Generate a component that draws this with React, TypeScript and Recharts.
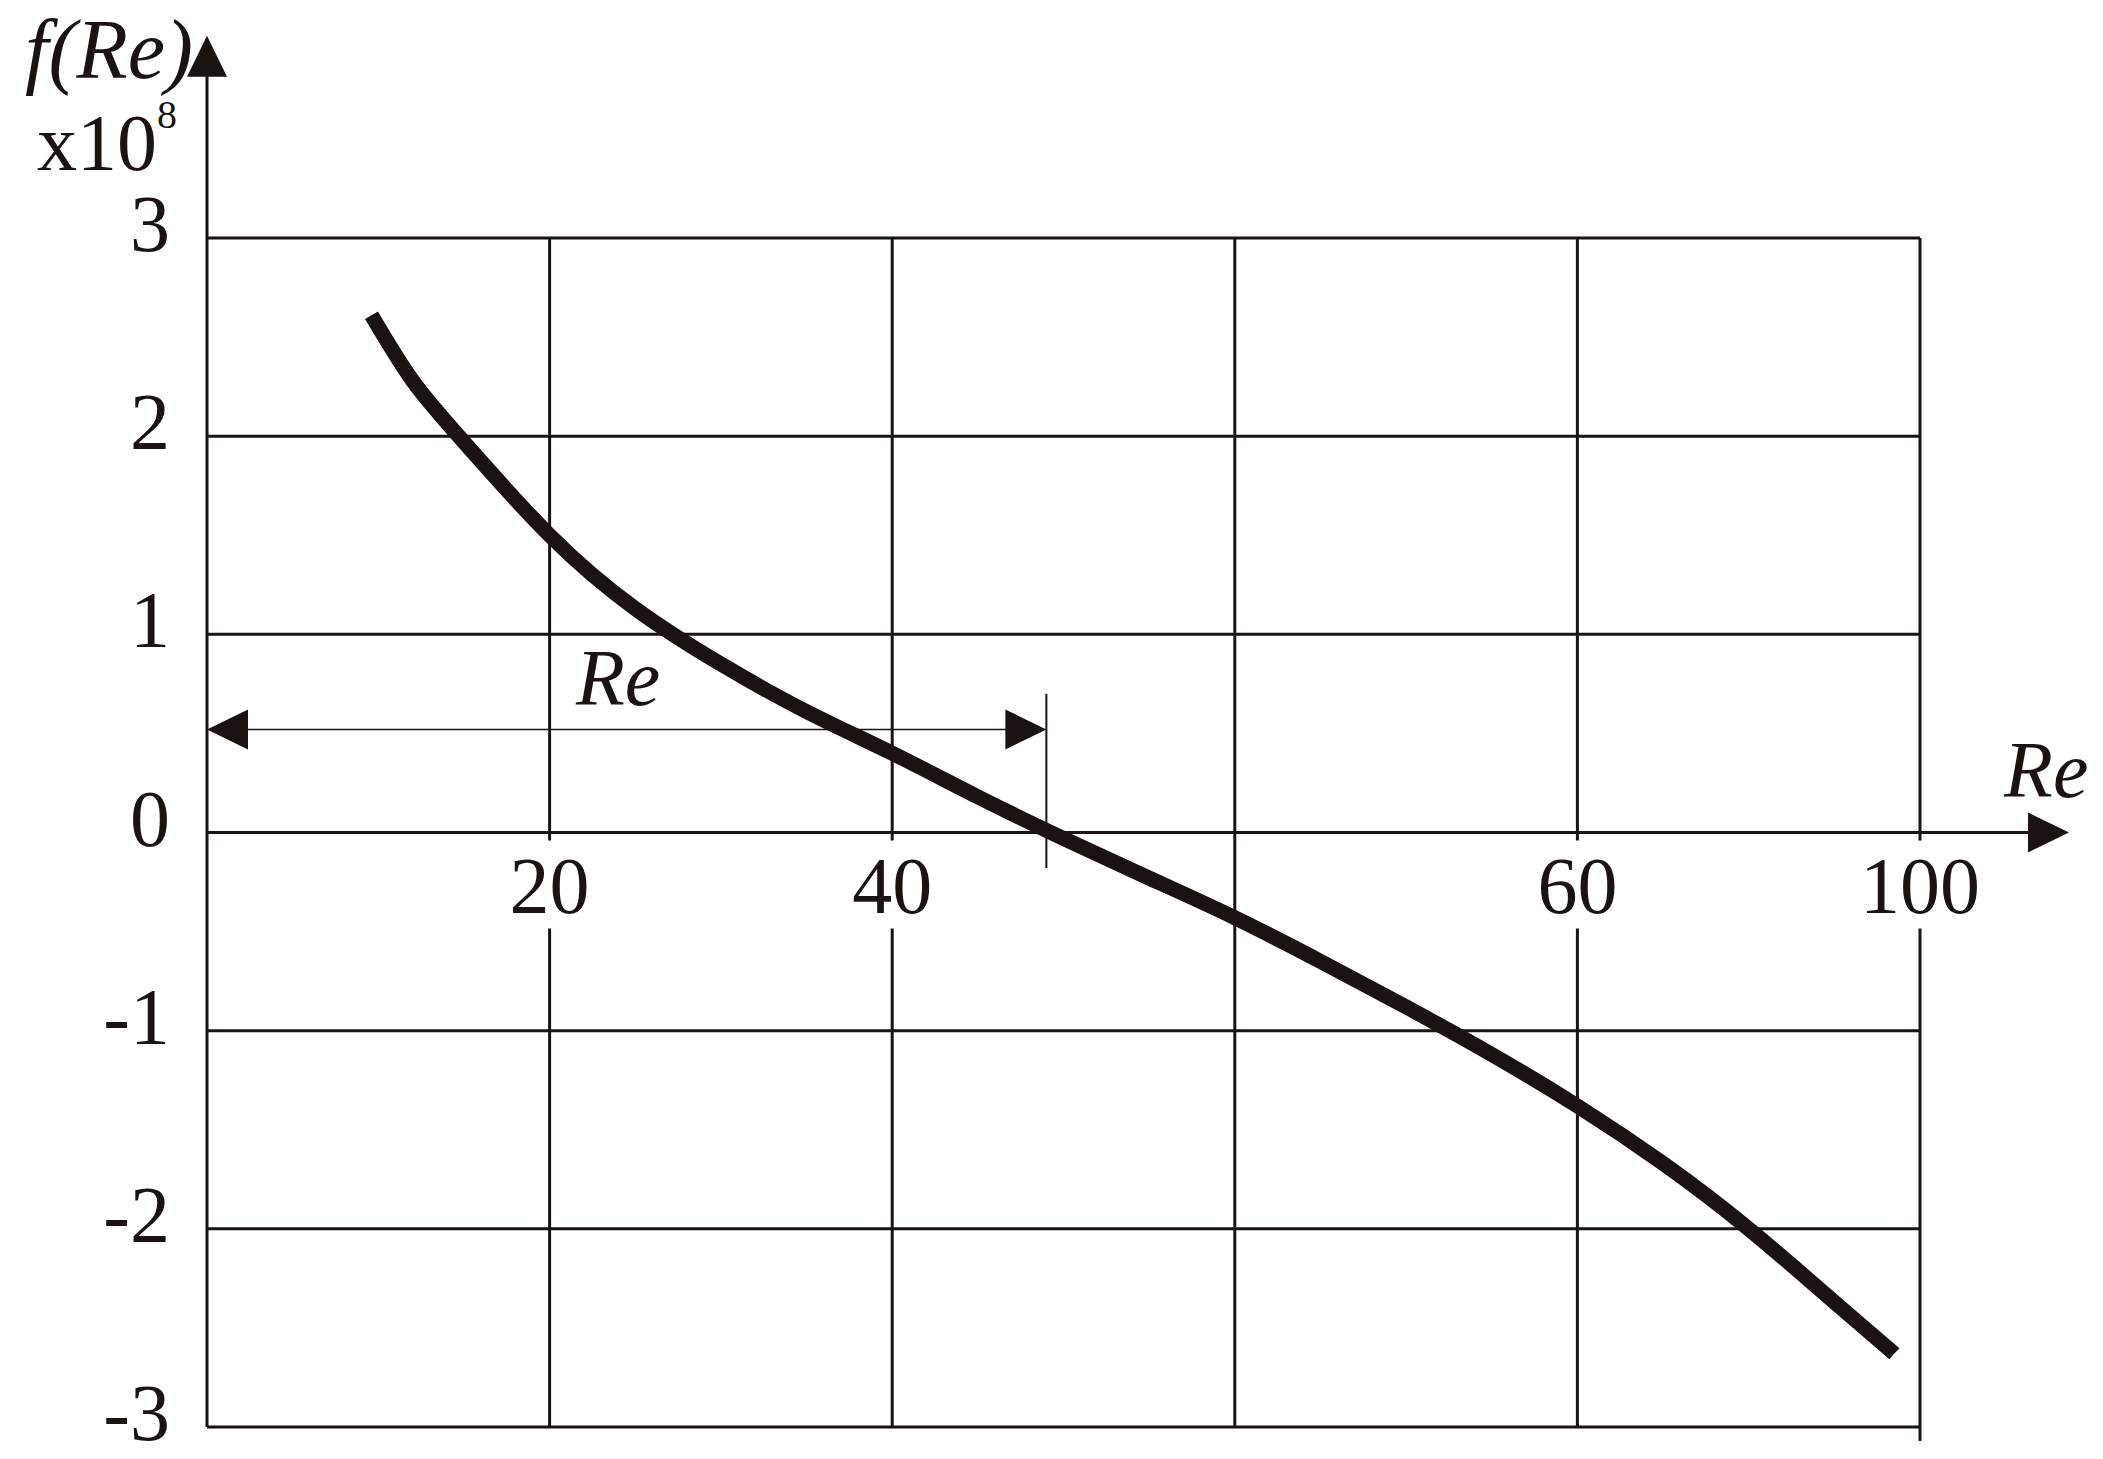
import React from "react";
import {
  LineChart, Line, XAxis, YAxis, CartesianGrid, ReferenceLine, ReferenceDot,
} from "recharts";

// Re values along the curve and f(Re) (x10^8)
const reValues = [9.6, 12, 15, 20, 25, 30, 35, 40, 45, 50, 55, 60, 65, 70, 75, 80, 85, 90, 95, 98.5];
const fValues = [2.61, 2.28, 1.97, 1.5, 1.13, 0.85, 0.61, 0.4, 0.18, -0.03, -0.23, -0.43, -0.65, -0.88, -1.12, -1.38, -1.67, -2.0, -2.37, -2.63];

const xTicks = [0, 20, 40, 60, 80, 100];
const xTickLabels = ["", "20", "40", "", "60", "100"];
const yTicks = [-3, -2, -1, 0, 1, 2, 3];
const yTickLabels = ["-3", "-2", "-1", "0", "1", "2", "3"];

// marked interval on the Re axis and where the axes end
const reMarked = 49;
const reArrowLevel = 0.52;
const reMarkTop = 0.7;
const reMarkBottom = -0.18;
const xAxisEnd = 108.7;
const yAxisEnd = 4.02;

const INK = "#1a1311";
const FONT = '"Liberation Serif", "Times New Roman", serif';

const data = reValues.map((re, i) => ({ re, f: fValues[i] }));

// ── arrows ────────────────────────────────────────────────────────────────────

function arrowShape(both: boolean, width: number) {
  return (p: any) => {
    const { x1, y1, x2, y2 } = p;
    const dx = x2 - x1;
    const dy = y2 - y1;
    const len = Math.hypot(dx, dy) || 1;
    const ux = dx / len;
    const uy = dy / len;
    const L = 41;
    const W = 20;
    const head = (tx: number, ty: number, sx: number, sy: number) => {
      const bx = tx - sx * L;
      const by = ty - sy * L;
      return `${tx},${ty} ${bx - sy * W},${by + sx * W} ${bx + sy * W},${by - sx * W}`;
    };
    const sx = both ? x1 + ux * (L - 2) : x1;
    const sy = both ? y1 + uy * (L - 2) : y1;
    return (
      <g>
        <line x1={sx} y1={sy} x2={x2 - ux * (L - 2)} y2={y2 - uy * (L - 2)} stroke={INK} strokeWidth={width} />
        <polygon points={head(x2, y2, ux, uy)} fill={INK} />
        {both && <polygon points={head(x1, y1, -ux, -uy)} fill={INK} />}
      </g>
    );
  };
}

// ── tick labels ───────────────────────────────────────────────────────────────

const YTick = (p: any) => {
  const i = yTicks.indexOf(p.payload.value);
  return (
    <text x={p.x} y={p.y} dy={13} textAnchor="end" fontFamily={FONT} fontSize={80} fill={INK}>
      {yTickLabels[i]}
    </text>
  );
};

const xLabelShape = (label: string) => (p: any) => {
  const w = label.length * 40 + 14;
  return (
    <g>
      <rect x={p.cx - w / 2} y={p.cy + 8} width={w} height={88} fill="#fff" />
      <text x={p.cx} y={p.cy + 80} textAnchor="middle" fontFamily={FONT} fontSize={80} fill={INK}>
        {label}
      </text>
    </g>
  );
};

export default function App() {
  return (
    <div style={{ position: "absolute", left: 0, top: 0, width: 2103, height: 1459, background: "#fff" }}>
      <LineChart
        width={2103}
        height={1459}
        data={data}
        margin={{ top: 238, right: 183, bottom: 32, left: 0 }}
      >
        <CartesianGrid stroke={INK} strokeWidth={3} />
        <XAxis
          type="number"
          dataKey="re"
          domain={[0, 100]}
          ticks={xTicks}
          hide
        />
        <YAxis
          type="number"
          domain={[-3, 3]}
          ticks={yTicks}
          width={207}
          axisLine={false}
          tickLine={false}
          tickSize={0}
          tickMargin={37}
          tick={YTick}
          interval={0}
        />

        {/* axis arrows */}
        <ReferenceLine
          segment={[{ x: 0, y: 3 }, { x: 0, y: yAxisEnd }]}
          ifOverflow="visible"
          shape={arrowShape(false, 3)}
        />
        <ReferenceLine
          segment={[{ x: 100, y: 0 }, { x: xAxisEnd, y: 0 }]}
          ifOverflow="visible"
          shape={arrowShape(false, 3)}
        />
        <ReferenceLine y={0} stroke={INK} strokeWidth={3} />
        <ReferenceLine
          segment={[{ x: 100, y: -3 }, { x: 100, y: -3.07 }]}
          ifOverflow="visible"
          stroke={INK}
          strokeWidth={3}
        />

        {/* marked interval */}
        <ReferenceLine
          segment={[{ x: 0, y: reArrowLevel }, { x: reMarked, y: reArrowLevel }]}
          ifOverflow="visible"
          shape={arrowShape(true, 1.5)}
        />
        <ReferenceLine
          segment={[{ x: reMarked, y: reMarkTop }, { x: reMarked, y: reMarkBottom }]}
          stroke={INK}
          strokeWidth={2}
        />

        {xTicks.map((t, i) =>
          xTickLabels[i] ? (
            <ReferenceDot key={t} x={t} y={0} r={0} ifOverflow="visible" shape={xLabelShape(xTickLabels[i])} />
          ) : null
        )}

        {/* labels */}
        <ReferenceDot
          x={24}
          y={reArrowLevel}
          r={0}
          ifOverflow="visible"
          shape={(p: any) => (
            <text x={p.cx} y={p.cy - 24} textAnchor="middle" fontFamily={FONT} fontStyle="italic" fontSize={80} fill={INK}>
              Re
            </text>
          )}
        />
        <ReferenceDot
          x={xAxisEnd}
          y={0}
          r={0}
          ifOverflow="visible"
          shape={(p: any) => (
            <text x={p.cx - 65} y={p.cy - 36} fontFamily={FONT} fontStyle="italic" fontSize={80} fill={INK}>
              Re
            </text>
          )}
        />
        <ReferenceDot
          x={0}
          y={yAxisEnd}
          r={0}
          ifOverflow="visible"
          shape={(p: any) => (
            <g>
              <text x={p.cx - 14} y={p.cy + 42} textAnchor="end" fontFamily={FONT} fontStyle="italic" fontSize={84} fill={INK}>
                f(Re)
              </text>
              <text x={p.cx - 30} y={p.cy + 134} textAnchor="end" fontFamily={FONT} fontSize={80} fill={INK}>
                x10<tspan dy={-42} fontSize={40}>8</tspan>
              </text>
            </g>
          )}
        />

        <Line
          type="natural"
          dataKey="f"
          stroke={INK}
          strokeWidth={15}
          dot={false}
          activeDot={false}
          isAnimationActive={false}
        />
      </LineChart>
    </div>
  );
}
